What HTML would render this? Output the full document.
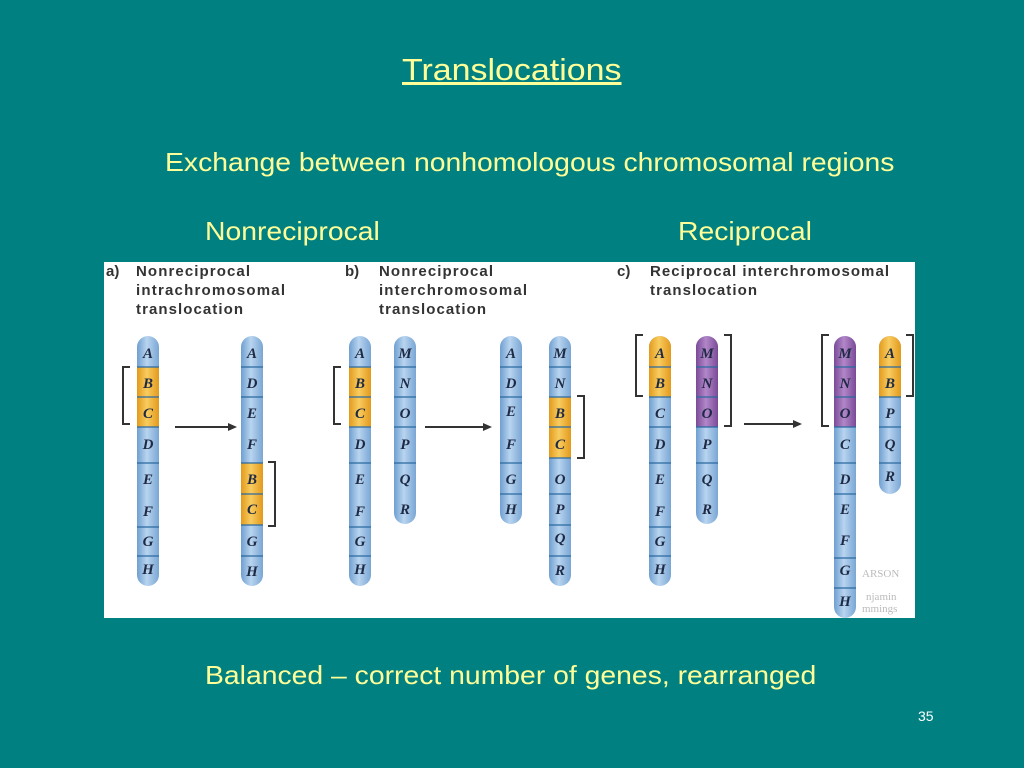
<!DOCTYPE html>
<html><head><meta charset="utf-8"><style>
body{margin:0;width:1024px;height:768px;background:#008080;position:relative;overflow:hidden;font-family:"Liberation Sans",sans-serif}
.t{position:absolute;color:#ffff99;white-space:nowrap;transform-origin:0 0}
</style></head><body>
<div class="t" style="left:402px;top:52px;font-size:31px;text-decoration:underline;transform:scaleX(1.095)">Translocations</div>
<div class="t" style="left:165px;top:147px;font-size:26px;transform:scaleX(1.09)">Exchange between nonhomologous chromosomal regions</div>
<div class="t" style="left:205px;top:216px;font-size:26px;transform:scaleX(1.09)">Nonreciprocal</div>
<div class="t" style="left:678px;top:216px;font-size:26px;transform:scaleX(1.09)">Reciprocal</div>
<div class="t" style="left:205px;top:660px;font-size:26px;transform:scaleX(1.09)">Balanced – correct number of genes, rearranged</div>
<div class="t" style="left:918px;top:708px;font-size:14px;color:#fff">35</div>
<svg style="position:absolute;left:104px;top:262px" width="811" height="356" viewBox="104 262 811 356">
<defs>
<linearGradient id="bl" x1="0" x2="1"><stop offset="0" stop-color="#6f9fd0"/><stop offset=".45" stop-color="#b8d4f0"/><stop offset="1" stop-color="#7aa6d4"/></linearGradient>
<linearGradient id="or" x1="0" x2="1"><stop offset="0" stop-color="#e39a1c"/><stop offset=".45" stop-color="#f8cc60"/><stop offset="1" stop-color="#e39a1c"/></linearGradient>
<linearGradient id="pu" x1="0" x2="1"><stop offset="0" stop-color="#7a4a98"/><stop offset=".45" stop-color="#b287c8"/><stop offset="1" stop-color="#7a4a98"/></linearGradient>
</defs>
<rect x="104" y="262" width="811" height="356" fill="#fff"/>
<g font-family="Liberation Sans,sans-serif" font-weight="bold" font-size="15" fill="#333" lengthAdjust="spacingAndGlyphs">
<text x="106" y="276">a)</text><text x="136" y="276" textLength="114">Nonreciprocal</text><text x="136" y="295" textLength="149">intrachromosomal</text><text x="136" y="314" textLength="107">translocation</text>
<text x="345" y="276">b)</text><text x="379" y="276" textLength="114">Nonreciprocal</text><text x="379" y="295" textLength="148">interchromosomal</text><text x="379" y="314" textLength="107">translocation</text>
<text x="617" y="276">c)</text><text x="650" y="276" textLength="239">Reciprocal interchromosomal</text><text x="650" y="295" textLength="107">translocation</text>
</g>
<g stroke="#333" stroke-width="2" fill="none">
<path d="M130 367H123V424H130"/><path d="M268 462H275V526H268"/>
<path d="M341 367H334V424H341"/><path d="M577 396H584V458H577"/>
<path d="M643 335H636V396H643"/><path d="M724 335H731V426H724"/>
<path d="M829 335H822V426H829"/><path d="M906 335H913V396H906"/>
<path d="M175 427H235"/><path d="M425 427H490"/><path d="M744 424H800"/>
</g>
<g fill="#333"><path d="M237 427l-9-4v8z"/><path d="M492 427l-9-4v8z"/><path d="M802 424l-9-4v8z"/></g>
<g font-family="Liberation Serif,serif" font-weight="bold" font-style="italic" font-size="15" fill="#1e2a44" text-anchor="middle">
<rect x="137" y="336" width="22" height="250" rx="11" fill="url(#bl)"/>
<rect x="137" y="367" width="22" height="60" fill="url(#or)"/>
<text x="148" y="358">A</text><text x="148" y="388">B</text><text x="148" y="418">C</text><text x="148" y="449">D</text><text x="148" y="484">E</text><text x="148" y="516">F</text><text x="148" y="546">G</text><text x="148" y="574">H</text>
<rect x="241" y="336" width="22" height="250" rx="11" fill="url(#bl)"/>
<rect x="241" y="463" width="22" height="62" fill="url(#or)"/>
<text x="252" y="358">A</text><text x="252" y="388">D</text><text x="252" y="418">E</text><text x="252" y="449">F</text><text x="252" y="484">B</text><text x="252" y="514">C</text><text x="252" y="546">G</text><text x="252" y="576">H</text>
<rect x="349" y="336" width="22" height="250" rx="11" fill="url(#bl)"/>
<rect x="349" y="367" width="22" height="60" fill="url(#or)"/>
<text x="360" y="358">A</text><text x="360" y="388">B</text><text x="360" y="418">C</text><text x="360" y="449">D</text><text x="360" y="484">E</text><text x="360" y="516">F</text><text x="360" y="546">G</text><text x="360" y="574">H</text>
<rect x="394" y="336" width="22" height="188" rx="11" fill="url(#bl)"/>
<text x="405" y="358">M</text><text x="405" y="388">N</text><text x="405" y="418">O</text><text x="405" y="449">P</text><text x="405" y="484">Q</text><text x="405" y="514">R</text>
<rect x="500" y="336" width="22" height="188" rx="11" fill="url(#bl)"/>
<text x="511" y="358">A</text><text x="511" y="388">D</text><text x="511" y="416">E</text><text x="511" y="449">F</text><text x="511" y="484">G</text><text x="511" y="514">H</text>
<rect x="549" y="336" width="22" height="250" rx="11" fill="url(#bl)"/>
<rect x="549" y="397" width="22" height="61" fill="url(#or)"/>
<text x="560" y="358">M</text><text x="560" y="388">N</text><text x="560" y="418">B</text><text x="560" y="449">C</text><text x="560" y="484">O</text><text x="560" y="514">P</text><text x="560" y="543">Q</text><text x="560" y="575">R</text>
<rect x="649" y="336" width="22" height="250" rx="11" fill="url(#bl)"/>
<path d="M649 347a11 11 0 0 1 22 0V397H649z" fill="url(#or)"/>
<text x="660" y="358">A</text><text x="660" y="388">B</text><text x="660" y="418">C</text><text x="660" y="449">D</text><text x="660" y="484">E</text><text x="660" y="516">F</text><text x="660" y="546">G</text><text x="660" y="574">H</text>
<rect x="696" y="336" width="22" height="188" rx="11" fill="url(#bl)"/>
<path d="M696 347a11 11 0 0 1 22 0V427H696z" fill="url(#pu)"/>
<text x="707" y="358">M</text><text x="707" y="388">N</text><text x="707" y="418">O</text><text x="707" y="449">P</text><text x="707" y="484">Q</text><text x="707" y="514">R</text>
<rect x="834" y="336" width="22" height="282" rx="11" fill="url(#bl)"/>
<path d="M834 347a11 11 0 0 1 22 0V427H834z" fill="url(#pu)"/>
<text x="845" y="358">M</text><text x="845" y="388">N</text><text x="845" y="418">O</text><text x="845" y="449">C</text><text x="845" y="484">D</text><text x="845" y="514">E</text><text x="845" y="545">F</text><text x="845" y="575">G</text><text x="845" y="606">H</text>
<rect x="879" y="336" width="22" height="158" rx="11" fill="url(#bl)"/>
<path d="M879 347a11 11 0 0 1 22 0V397H879z" fill="url(#or)"/>
<text x="890" y="358">A</text><text x="890" y="388">B</text><text x="890" y="418">P</text><text x="890" y="449">Q</text><text x="890" y="481">R</text>
</g>
<g stroke="#2a6aa0" stroke-width="1.2">
<path d="M137 367h22M137 397h22M137 427h22M137 463h22M137 527h22M137 556h22"/>
<path d="M241 367h22M241 397h22M241 463h22M241 494h22M241 525h22M241 556h22"/>
<path d="M349 367h22M349 397h22M349 427h22M349 463h22M349 527h22M349 556h22"/>
<path d="M394 367h22M394 397h22M394 427h22M394 463h22"/>
<path d="M500 367h22M500 397h22M500 463h22M500 494h22"/>
<path d="M549 367h22M549 397h22M549 427h22M549 458h22M549 494h22M549 525h22M549 556h22"/>
<path d="M649 367h22M649 397h22M649 427h22M649 463h22M649 527h22M649 556h22"/>
<path d="M696 367h22M696 397h22M696 427h22M696 463h22"/>
<path d="M834 367h22M834 397h22M834 427h22M834 463h22M834 494h22M834 558h22M834 588h22"/>
<path d="M879 367h22M879 397h22M879 427h22M879 463h22"/>
</g>
<g font-family="Liberation Serif,serif" font-size="11" fill="#bbb"><text x="862" y="577">ARSON</text><text x="866" y="600">njamin</text><text x="862" y="612">mmings</text></g>
</svg>
</body></html>
